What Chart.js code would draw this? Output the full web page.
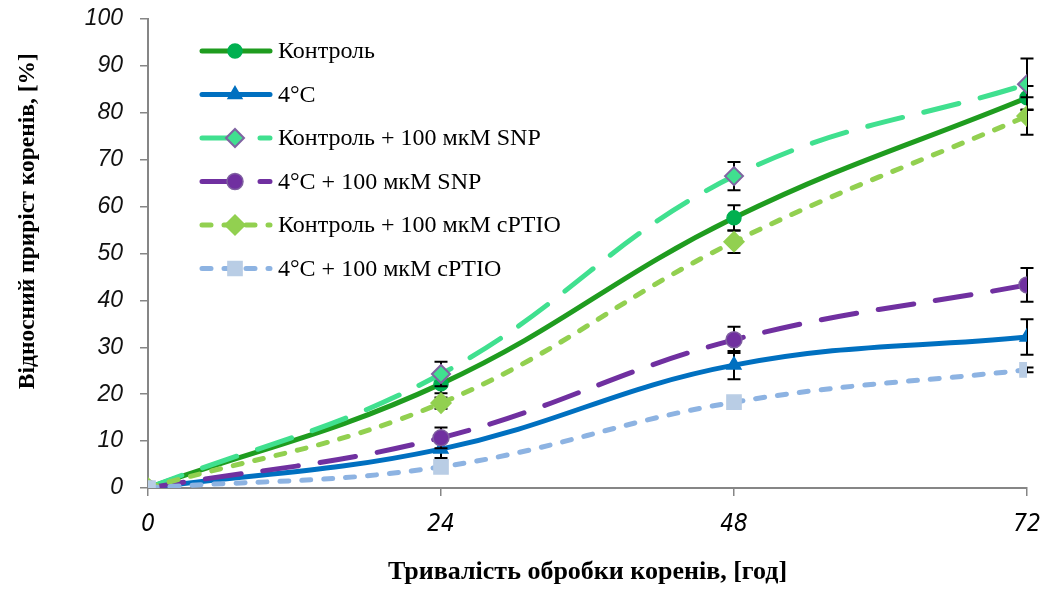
<!DOCTYPE html>
<html>
<head>
<meta charset="utf-8">
<script src="https://cdn.jsdelivr.net/npm/chart.js@4.4.1/dist/chart.umd.min.js"></script>
<style>
    html, body { margin: 0; padding: 0; background: #fff; }
    #wrap { width: 1045px; height: 590px; }
</style>
</head>
<body>
<div id="wrap"><canvas id="chartRoots"></canvas></div>
<script>
var hours = [0, 24, 48, 72];
var xTicks = [0, 24, 48, 72];
var seriesNames = ['Контроль', '4°C', 'Контроль + 100 мкМ SNP', '4°C + 100 мкМ SNP', 'Контроль + 100 мкМ cPTIO', '4°C + 100 мкМ cPTIO'];

var control = [0, 22.2, 57.6, 83.2];
var cold = [0, 8.3, 26.2, 32.2];
var controlSnp = [0, 24.3, 66.5, 86.1];
var coldSnp = [0, 10.7, 31.6, 43.3];
var controlCptio = [0, 18.1, 52.5, 79.3];
var coldCptio = [0, 4.5, 18.3, 25.2];

var controlErr = [0, 2.0, 2.7, 2.5];
var coldErr = [0, 1.9, 3.0, 3.8];
var controlSnpErr = [0, 2.6, 3.0, 5.5];
var coldSnpErr = [0, 2.2, 2.8, 3.6];
var controlCptioErr = [0, 1.2, 2.4, 4.0];
var coldCptioErr = [0, 0.6, 0.5, 0.5];

(function () {
    'use strict';

    var axisGrey = '#868686';
    var longDash = [36, 22];
    var shortDash = [9, 13];

    function pts(values) {
        return values.map(function (v, i) { return { x: hours[i], y: v }; });
    }

    function series(i, values, errs, style) {
        var ds = {
            label: seriesNames[i],
            data: pts(values),
            errors: errs,
            order: 5 - i,
            borderWidth: 5,
            borderCapStyle: 'round',
            tension: 0.4,
            fill: false,
            pointBorderWidth: 1.5,
        };
        Object.keys(style).forEach(function (k) { ds[k] = style[k]; });
        return ds;
    }

    var datasets = [
        series(0, control, controlErr, {
            borderColor: '#1f9c1f', pointStyle: 'circle', pointRadius: 7,
            pointBackgroundColor: '#00b050', pointBorderColor: '#00b050',
        }),
        series(1, cold, coldErr, {
            borderColor: '#0070c0', pointStyle: 'triangle', pointRadius: 8,
            pointBackgroundColor: '#0070c0', pointBorderColor: '#0070c0',
        }),
        series(2, controlSnp, controlSnpErr, {
            borderColor: '#40e08f', borderDash: longDash, pointStyle: 'rectRot', pointRadius: 9,
            pointBackgroundColor: '#40e08f', pointBorderColor: '#8064a2', pointBorderWidth: 2,
        }),
        series(3, coldSnp, coldSnpErr, {
            borderColor: '#7030a0', borderDash: longDash, pointStyle: 'circle', pointRadius: 8,
            pointBackgroundColor: '#7030a0', pointBorderColor: '#7f5fa0',
        }),
        series(4, controlCptio, controlCptioErr, {
            borderColor: '#92d050', borderDash: shortDash, pointStyle: 'rectRot', pointRadius: 10,
            pointBackgroundColor: '#92d050', pointBorderColor: '#92d050',
        }),
        series(5, coldCptio, coldCptioErr, {
            borderColor: '#8db3e2', borderDash: shortDash, pointStyle: 'rect', pointRadius: 10,
            pointBackgroundColor: '#b9cde5', pointBorderColor: '#b9cde5',
        }),
    ];

    // error bars drawn just before each series, so markers sit on top
    var errorBars = {
        id: 'errorBars',
        beforeDatasetDraw: function (chart, args) {
            var ds = chart.data.datasets[args.index];
            var ys = chart.scales.y;
            var ctx = chart.ctx;
            ctx.save();
            ctx.strokeStyle = '#000';
            ctx.lineWidth = 2;
            args.meta.data.forEach(function (pt, j) {
                var e = ds.errors[j];
                if (!e) return;
                var v = ds.data[j].y;
                var top = ys.getPixelForValue(v + e);
                var bot = ys.getPixelForValue(v - e);
                ctx.beginPath();
                ctx.moveTo(pt.x, top); ctx.lineTo(pt.x, bot);
                ctx.moveTo(pt.x - 6.5, top); ctx.lineTo(pt.x + 6.5, top);
                ctx.moveTo(pt.x - 6.5, bot); ctx.lineTo(pt.x + 6.5, bot);
                ctx.stroke();
            });
            ctx.restore();
        },
    };

    // Excel-like legend: line sample with marker in the middle
    var lineLegend = {
        id: 'lineLegend',
        afterDraw: function (chart) {
            var ctx = chart.ctx;
            chart.data.datasets.forEach(function (ds, i) {
                var y = 51 + i * 43.5;
                ctx.save();
                ctx.strokeStyle = ds.borderColor;
                ctx.lineWidth = ds.borderWidth;
                ctx.lineCap = 'round';
                ctx.setLineDash(ds.borderDash || []);
                ctx.beginPath();
                ctx.moveTo(202, y);
                ctx.lineTo(270, y);
                ctx.stroke();
                ctx.setLineDash([]);
                ctx.fillStyle = ds.pointBackgroundColor;
                ctx.strokeStyle = ds.pointBorderColor;
                ctx.lineWidth = ds.pointBorderWidth;
                Chart.helpers.drawPoint(ctx, {
                    pointStyle: ds.pointStyle,
                    radius: ds.pointRadius,
                    borderWidth: ds.pointBorderWidth,
                    rotation: 0,
                }, 235, y);
                ctx.fillStyle = '#000';
                ctx.font = '24px "Liberation Serif", "Times New Roman", serif';
                ctx.textBaseline = 'middle';
                ctx.fillText(ds.label, 278, y + 1);
                ctx.restore();
            });
        },
    };

    new Chart(document.getElementById('chartRoots'), {
        type: 'line',
        data: { datasets: datasets },
        plugins: [errorBars, lineLegend],
        options: {
            responsive: true,
            maintainAspectRatio: false,
            animation: false,
            layout: { padding: { top: 19, right: 18, left: 0, bottom: 0 } },
            plugins: { legend: { display: false }, tooltip: { enabled: false } },
            scales: {
                x: {
                    type: 'linear',
                    min: 0,
                    max: 72,
                    afterFit: function (s) {
                        s.height = 102;
                        s.paddingLeft = 0;
                        s.paddingRight = 0;
                    },
                    afterBuildTicks: function (s) { s.ticks = xTicks.map(function (v) { return { value: v }; }); },
                    ticks: {
                        padding: 14,
                        color: '#000',
                        font: { family: '"Liberation Sans Narrow", "DejaVu Sans Condensed", sans-serif', size: 24, style: 'italic' },
                    },
                    grid: { drawOnChartArea: false, tickLength: 8, color: axisGrey, lineWidth: 1.5 },
                    border: { color: axisGrey, width: 2 },
                    title: {
                        display: true,
                        text: 'Тривалість обробки коренів, [год]',
                        color: '#000',
                        padding: { top: 0, bottom: 2 },
                        font: { family: '"Liberation Serif", "Times New Roman", serif', size: 26, weight: 'bold' },
                    },
                },
                y: {
                    min: 0,
                    max: 100,
                    afterFit: function (s) {
                        s.width = 148;
                        s.paddingTop = 0;
                        s.paddingBottom = 0;
                    },
                    ticks: {
                        stepSize: 10,
                        padding: 17,
                        color: '#111',
                        font: { family: '"Liberation Sans", Arial, sans-serif', size: 23, style: 'italic' },
                    },
                    grid: { drawOnChartArea: false, tickLength: 8, color: axisGrey, lineWidth: 1.5 },
                    border: { color: axisGrey, width: 2 },
                    title: {
                        display: true,
                        text: '\u00a0\u00a0\u00a0\u00a0\u00a0\u00a0\u00a0\u00a0\u00a0\u00a0\u00a0Відносний приріст коренів, [%]',
                        color: '#000',
                        padding: { top: 14, bottom: 0 },
                        font: { family: '"Liberation Serif", "Times New Roman", serif', size: 23.5, weight: 'bold' },
                    },
                },
            },
        },
    });
})();
</script>
</body>
</html>
